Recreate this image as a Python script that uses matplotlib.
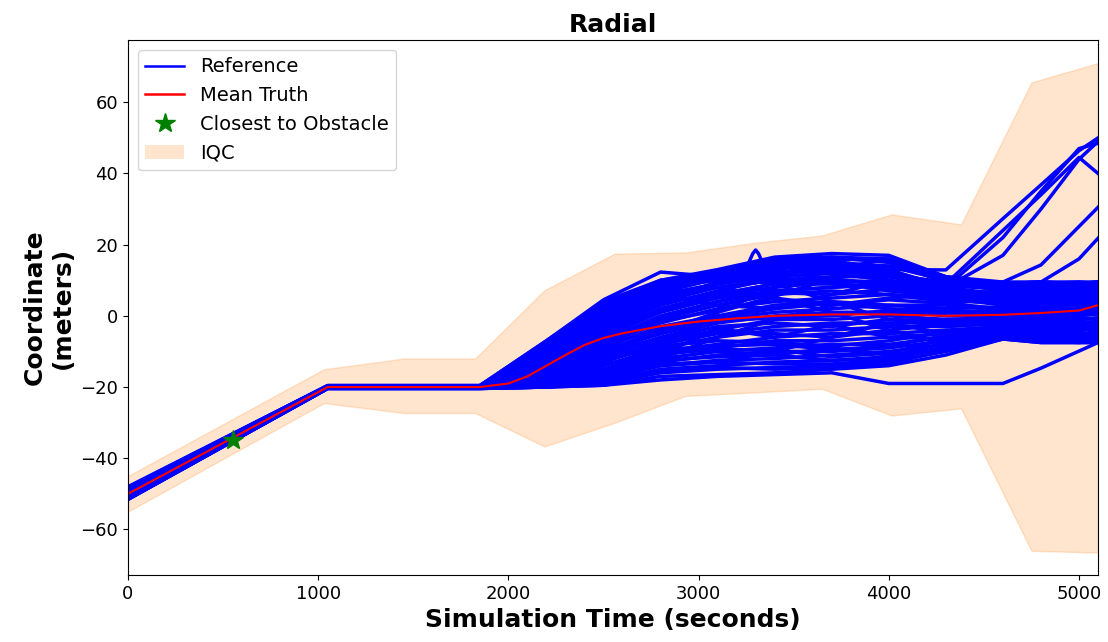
import numpy as np
import matplotlib
matplotlib.use('Agg')
import matplotlib.pyplot as plt
from matplotlib.patches import Patch
from matplotlib.lines import Line2D

# time grid shared by the reference runs (s)
ref_time = [0, 1050, 1850, 2200, 2500, 2800, 3100, 3400, 3700, 4000, 4300, 4600, 4800, 5000, 5100]

# radial coordinate of every reference run on ref_time (m)
ref_paths = [
    [-48.0, -19.6, -19.6, -7.0, 4.0, 10.0, 13.0, 16.5, 17.5, 17.0, 11.0, 9.5, 9.5, 9.5, 9.5],
    [-48.3, -19.6, -19.6, -8.0, 3.0, 9.0, 12.5, 16.0, 16.5, 16.0, 11.0, 9.0, 9.0, 9.5, 9.0],
    [-48.2, -19.6, -19.6, -7.0, 4.5, 12.3, 11.0, 15.5, 16.5, 15.0, 9.5, 8.5, 9.0, 8.5, 9.0],
    [-48.5, -19.7, -19.7, -8.0, 3.0, 9.0, 12.0, 14.5, 15.5, 13.0, 8.0, 9.0, 9.5, 9.0, 9.5],
    [-48.8, -19.7, -19.7, -9.0, 1.0, 7.0, 11.0, 13.5, 14.0, 12.0, 9.0, 7.5, 8.0, 8.0, 8.5],
    [-49.0, -19.8, -19.8, -10.0, 0.0, 8.0, 10.0, 12.0, 13.0, 14.0, 10.0, 8.0, 7.0, 7.5, 8.0],
    [-49.2, -19.8, -19.8, -11.0, -1.0, 5.0, 9.0, 11.0, 12.0, 10.0, 7.0, 6.5, 7.0, 7.0, 7.5],
    [-49.4, -19.9, -19.9, -12.0, -3.0, 4.0, 8.0, 10.0, 11.0, 11.0, 8.0, 6.0, 6.0, 6.5, 7.0],
    [-49.6, -19.9, -19.9, -13.0, -4.0, 2.0, 6.0, 9.0, 9.0, 8.0, 6.0, 5.0, 5.5, 6.0, 6.0],
    [-49.8, -19.9, -20.0, -14.0, -6.0, 1.0, 5.0, 7.0, 8.0, 9.0, 7.0, 4.5, 4.0, 4.5, 5.0],
    [-50.0, -20.0, -20.0, -15.0, -7.0, -1.0, 3.0, 6.0, 7.0, 6.0, 4.0, 4.0, 4.0, 4.0, 4.5],
    [-50.2, -20.0, -20.0, -15.0, -8.0, -2.0, 2.0, 4.0, 5.0, 6.0, 5.0, 3.0, 3.0, 3.5, 4.0],
    [-50.3, -20.0, -20.0, -16.0, -9.0, -3.0, 0.0, 3.0, 4.0, 3.0, 2.0, 2.5, 2.0, 2.5, 3.0],
    [-50.4, -20.1, -20.0, -16.0, -10.0, -4.0, -1.0, 1.0, 2.0, 3.0, 3.0, 1.5, 1.5, 2.0, 2.0],
    [-50.5, -20.1, -20.1, -17.0, -11.0, -6.0, -2.0, 0.0, 1.0, 1.0, 1.0, 0.5, 1.0, 1.0, 1.0],
    [-50.6, -20.1, -20.1, -17.0, -12.0, -7.0, -4.0, -1.0, -1.0, 0.0, -1.0, -0.5, 0.0, 0.0, 0.5],
    [-50.7, -20.1, -20.1, -18.0, -13.0, -8.0, -5.0, -3.0, -2.0, -2.0, -2.0, -1.0, -1.0, -1.0, -0.5],
    [-50.8, -20.2, -20.1, -18.0, -14.0, -9.0, -6.0, -4.0, -4.0, -3.0, -3.0, -2.0, -2.0, -2.0, -1.5],
    [-50.9, -20.2, -20.2, -18.5, -15.0, -10.0, -8.0, -6.0, -5.0, -5.0, -4.0, -3.0, -3.0, -3.0, -2.5],
    [-51.0, -20.2, -20.2, -19.0, -16.0, -11.0, -9.0, -7.0, -7.0, -6.0, -5.0, -3.5, -4.0, -4.0, -3.5],
    [-51.1, -20.2, -20.2, -19.0, -16.5, -12.0, -10.0, -9.0, -8.0, -8.0, -6.0, -4.0, -4.5, -5.0, -4.5],
    [-51.2, -20.3, -20.3, -19.5, -17.0, -13.0, -11.0, -10.0, -10.0, -9.0, -7.0, -5.0, -5.5, -5.5, -5.0],
    [-51.3, -20.3, -20.3, -19.5, -18.0, -14.0, -12.5, -12.0, -11.0, -10.0, -8.0, -5.5, -6.0, -6.0, -6.0],
    [-51.4, -20.3, -20.3, -20.0, -18.5, -15.0, -14.0, -13.0, -12.5, -12.0, -9.0, -6.0, -6.5, -6.5, -6.5],
    [-51.5, -20.4, -20.4, -20.0, -19.0, -16.0, -15.0, -14.5, -14.0, -13.0, -10.0, -6.5, -7.0, -7.5, -7.0],
    [-51.6, -20.4, -20.4, -20.0, -19.5, -17.0, -16.5, -16.0, -15.0, -14.0, -11.0, -6.5, -7.5, -7.5, -7.5],
    [-49.5, -19.9, -20.0, -16.0, -10.0, -5.0, 1.0, 8.0, 13.0, 16.0, 9.0, 8.0, 8.5, 9.0, 9.5],
    [-50.0, -20.0, -20.0, -12.0, -2.0, 6.0, 8.0, 5.0, 1.0, -4.0, -8.0, -5.0, -5.0, -4.0, -3.0],
    [-49.7, -19.9, -19.9, -10.0, 2.0, 9.0, 11.0, 9.0, 4.0, -1.0, -3.0, -2.0, -1.0, 0.0, 1.0],
    [-50.8, -20.2, -20.2, -18.0, -15.0, -12.0, -6.0, -1.0, 3.0, 5.0, 6.0, 7.0, 6.0, 6.5, 7.0],
    [-50.4, -20.1, -20.1, -17.0, -12.0, -9.0, -10.0, -11.0, -9.0, -11.0, -9.0, -4.0, -3.0, -2.0, -2.0],
    [-49.2, -19.8, -19.8, -11.0, 0.0, 6.0, 3.0, 2.0, 6.0, 10.0, 4.0, 1.0, 2.0, 2.5, 3.0],
    [-51.0, -20.3, -20.3, -19.0, -17.0, -14.0, -13.0, -10.0, -6.0, -2.0, -5.0, -4.0, -6.0, -6.0, -5.0],
    [-48.6, -19.7, -19.7, -9.0, 2.0, 8.0, 11.0, 13.0, 15.0, 14.0, 10.0, 9.0, 9.5, 9.0, 9.5],
    [-48.9, -19.7, -19.8, -9.5, 0.5, 7.5, 11.5, 14.0, 14.5, 12.5, 8.5, 8.0, 8.5, 8.5, 9.0],
    [-49.1, -19.8, -19.8, -10.5, -0.5, 6.5, 10.5, 12.5, 12.5, 11.5, 9.5, 7.0, 7.5, 7.5, 8.0],
    [-49.3, -19.8, -19.9, -11.5, -2.0, 4.5, 9.5, 11.5, 13.5, 12.0, 7.5, 6.0, 6.5, 7.0, 7.0],
    [-49.5, -19.9, -19.9, -12.5, -3.5, 3.0, 7.0, 10.5, 10.0, 9.5, 6.5, 5.5, 5.0, 5.5, 6.5],
    [-49.7, -19.9, -19.9, -13.5, -5.0, 1.5, 5.5, 8.0, 9.5, 7.0, 5.5, 4.0, 4.5, 5.0, 5.5],
    [-49.9, -20.0, -20.0, -14.5, -6.5, -0.5, 4.0, 6.5, 6.0, 7.5, 4.5, 3.5, 3.5, 3.0, 3.5],
    [-50.1, -20.0, -20.0, -15.5, -7.5, -1.5, 1.5, 5.0, 3.0, 4.5, 3.5, 2.0, 2.5, 3.0, 2.5],
    [-50.3, -20.0, -20.0, -16.0, -8.5, -3.5, -0.5, 2.0, 3.5, 2.0, 1.5, 1.0, 1.5, 1.5, 2.0],
    [-50.4, -20.1, -20.1, -16.5, -9.5, -5.0, -1.5, -0.5, 0.0, 1.5, 0.0, 0.0, 0.5, 0.5, 1.5],
    [-50.5, -20.1, -20.1, -17.0, -10.5, -6.5, -3.0, -2.0, -3.0, -1.0, -1.5, -1.5, -0.5, -0.5, -1.0],
    [-50.6, -20.1, -20.1, -17.5, -11.5, -7.5, -4.5, -5.0, -6.0, -4.0, -2.5, -2.5, -1.5, -1.5, -2.0],
    [-50.8, -20.2, -20.2, -18.0, -12.5, -8.5, -7.0, -7.5, -8.5, -7.0, -4.5, -3.0, -2.5, -2.5, -3.0],
    [-50.9, -20.2, -20.2, -18.5, -14.0, -9.5, -8.5, -8.0, -9.5, -8.5, -5.5, -4.5, -3.5, -3.5, -4.0],
    [-51.0, -20.2, -20.2, -19.0, -15.5, -10.5, -9.5, -9.5, -11.5, -10.5, -6.5, -5.0, -5.0, -4.5, -5.5],
    [-51.2, -20.3, -20.3, -19.5, -16.5, -12.5, -11.5, -11.0, -12.5, -11.5, -7.5, -5.5, -6.5, -6.5, -6.0],
    [-51.4, -20.3, -20.3, -19.5, -17.5, -13.5, -13.0, -13.5, -13.5, -12.5, -8.5, -6.0, -7.0, -7.0, -7.0],
    [-51.5, -20.4, -20.4, -20.0, -18.5, -15.5, -14.5, -15.0, -14.5, -13.5, -9.5, -6.5, -7.5, -7.5, -7.5],
    [-49.0, -19.8, -19.8, -10.0, 1.5, 8.5, 12.5, 15.0, 16.0, 15.5, 10.5, 9.0, 9.0, 9.0, 9.0],
    [-50.0, -20.0, -20.0, -14.0, -4.5, 3.5, 6.5, 12.0, 14.5, 12.5, 8.5, 7.5, 8.0, 8.0, 8.5],
    [-50.6, -20.1, -20.1, -17.0, -11.0, -4.5, 1.0, 5.5, 10.5, 8.5, 6.0, 5.5, 5.5, 6.0, 6.0],
    [-51.0, -20.2, -20.2, -18.5, -13.5, -11.0, -3.5, -6.0, -2.5, -6.0, -6.5, -3.0, -4.0, -3.0, -3.5],
    [-51.5, -20.4, -20.4, -20.0, -19.5, -18.0, -17.0, -16.5, -16.0, -19.0, -19.0, -19.0, -14.7, -9.9, -7.5],
    # runs that break away upward near the end
    [-48.4, -19.7, -19.7, -8.0, 3.0, 10.0, 12.0, 14.0, 15.0, 13.0, 12.9, 27.3, 36.8, 46.4, 50.0],
    [-49.0, -19.8, -19.8, -10.0, 1.0, 8.0, 11.0, 12.0, 13.0, 11.0, 9.0, 24.0, 34.0, 44.5, 40.0],
    [-49.3, -19.8, -19.9, -11.0, -1.0, 6.0, 9.0, 11.0, 12.0, 10.0, 8.0, 22.0, 35.0, 47.0, 48.5],
    [-49.5, -19.9, -19.9, -12.0, -2.0, 5.0, 8.0, 10.0, 10.0, 9.0, 8.0, 17.0, 30.0, 44.0, 49.0],
    [-49.9, -20.0, -20.0, -14.0, -5.0, 2.0, 6.0, 9.0, 9.0, 8.0, 8.0, 9.5, 14.3, 25.1, 30.5],
    [-50.1, -20.0, -20.0, -15.0, -7.0, 0.0, 4.0, 7.0, 8.0, 9.0, 8.0, 9.0, 9.5, 16.0, 21.8],
]

# one run with a short excursion around 3300 s
spike_time = [3100, 3260, 3285, 3300, 3315, 3340, 3400]
spike_vals = [12.0, 14.5, 17.5, 18.5, 17.5, 14.5, 14.0]

# mean of the truth runs
mean_time = [0, 1050, 1850, 2000, 2100, 2200, 2300, 2400, 2500, 2600, 2800, 3000, 3200,
             3400, 3700, 4000, 4300, 4600, 4800, 5000, 5100]
mean_vals = [-50.0, -20.0, -20.0, -19.0, -17.0, -14.0, -11.0, -8.2, -6.2, -4.9, -2.9, -1.6, -0.7,
             0.0, 0.4, 0.4, 0.0, 0.3, 0.8, 1.5, 3.0]

# IQC envelope
iqc_time = [0, 1030, 1450, 1825, 2190, 2560, 2930, 3290, 3650, 4015, 4380, 4750, 5100]
iqc_upper = [-45.0, -15.0, -12.0, -12.0, 7.2, 17.5, 17.8, 20.5, 22.6, 28.5, 25.7, 65.6, 71.0]
iqc_lower = [-55.0, -24.5, -27.3, -27.3, -36.7, -30.0, -22.5, -21.5, -20.5, -28.0, -26.0, -66.0, -66.5]

# closest approach
closest_t = 550
closest_r = -34.8

fig = plt.figure(figsize=(11.08, 6.42), dpi=100)
ax = fig.add_axes([0.1155, 0.1044, 0.8755, 0.8333])

ax.fill_between(iqc_time, iqc_lower, iqc_upper, color='C1', alpha=0.2)
for path in ref_paths:
    ax.plot(ref_time, path, color='blue', lw=2.5)
ax.plot(spike_time, spike_vals, color='blue', lw=2.5)
ax.plot(mean_time, mean_vals, color='red', lw=1.5)
ax.plot(closest_t, closest_r, marker='*', color='green', markersize=15, ls='none')

ax.set_xlim(0, 5100)
ax.set_ylim(-72.8, 77.5)
ax.set_xticks([0, 1000, 2000, 3000, 4000, 5000])
ax.set_yticks([-60, -40, -20, 0, 20, 40, 60])
ax.tick_params(labelsize=13)

ax.set_title('Radial', fontsize=18, fontweight='bold')
ax.set_xlabel('Simulation Time (seconds)', fontsize=18, fontweight='bold')
ax.set_ylabel('Coordinate\n(meters)', fontsize=18, fontweight='bold')

handles = [Line2D([], [], color='blue', lw=1.8),
           Line2D([], [], color='red', lw=1.8),
           Line2D([], [], marker='*', color='green', markersize=15, ls='none'),
           Patch(facecolor='C1', alpha=0.2)]
ax.legend(handles, ['Reference', 'Mean Truth', 'Closest to Obstacle', 'IQC'],
          loc='upper left', fontsize=14)

plt.savefig('out.png', dpi=100)
